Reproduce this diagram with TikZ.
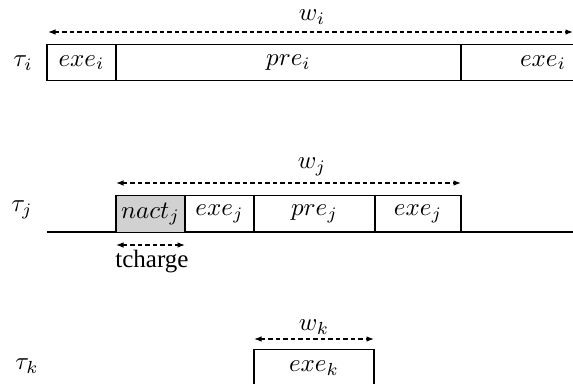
\documentclass[tikz,border=0pt]{standalone}
\usepackage{fontspec}
\newfontfamily\timesfont{Liberation Serif}
\usetikzlibrary{arrows.meta}
\tikzset{
  slot/.style={draw=black, line width=0.45pt, minimum height=14.7pt, inner sep=0pt, anchor=center},
  shaded/.style={slot, fill=black!18},
  dim/.style={line width=0.45pt, dash pattern=on 1.7pt off 1.3pt, {Latex[length=3pt,width=2.2pt]}-{Latex[length=3pt,width=2.2pt]}},
  lbl/.style={inner sep=0pt, anchor=center},
}
\begin{document}
\begin{tikzpicture}[x=0.4pt,y=-0.4pt]
\useasboundingbox (0,0) rectangle (573,383);
\clip (0,0) rectangle (573,383);
% task i
\node[lbl] (ti) at (23,63) {$\tau_i$};
\node[slot, minimum width=27.6pt] (exeA) at (81.5,62.5) {$exe_i$};
\node[slot, minimum width=138pt] (preA) at (288.5,62.5) {$pre_i$};
\node[slot, minimum width=65.6pt] (exeB) at (543,62.5) {$exe_i$};
\coordinate (wiL) at (48,32);
\coordinate (wiR) at (573,32);
\draw[dim] (wiL) -- (wiR);
\node[lbl] (wi) at (312,17) {$w_i$};
% task j
\node[lbl] (tj) at (22,210) {$\tau_j$};
\coordinate (baseL) at (47,232);
\coordinate (baseR) at (580,232);
\draw[line width=0.45pt] (baseL) -- (baseR);
\node[shaded, minimum width=27.6pt] (nact) at (150.5,214) {$nact_j$};
\node[slot, minimum width=27.6pt] (exeC) at (219.5,214) {$exe_j$};
\node[slot, minimum width=48.4pt] (preB) at (314.5,214) {$pre_j$};
\node[slot, minimum width=34.4pt] (exeD) at (418,214) {$exe_j$};
\coordinate (wjL) at (116,183);
\coordinate (wjR) at (461,183);
\draw[dim] (wjL) -- (wjR);
\node[lbl] (wj) at (312,167) {$w_j$};
\coordinate (tcL) at (116,245);
\coordinate (tcR) at (185,245);
\draw[dim] (tcL) -- (tcR);
\node[lbl] (tc) at (152,262) {\timesfont tcharge};
% task k
\node[lbl] (tk) at (27,366) {$\tau_k$};
\node[slot, minimum width=48pt] (exeE) at (314,368) {$exe_k$};
\coordinate (wkL) at (254,339);
\coordinate (wkR) at (374,339);
\draw[dim] (wkL) -- (wkR);
\node[lbl] (wk) at (314,327) {$w_k$};
\end{tikzpicture}
\end{document}
